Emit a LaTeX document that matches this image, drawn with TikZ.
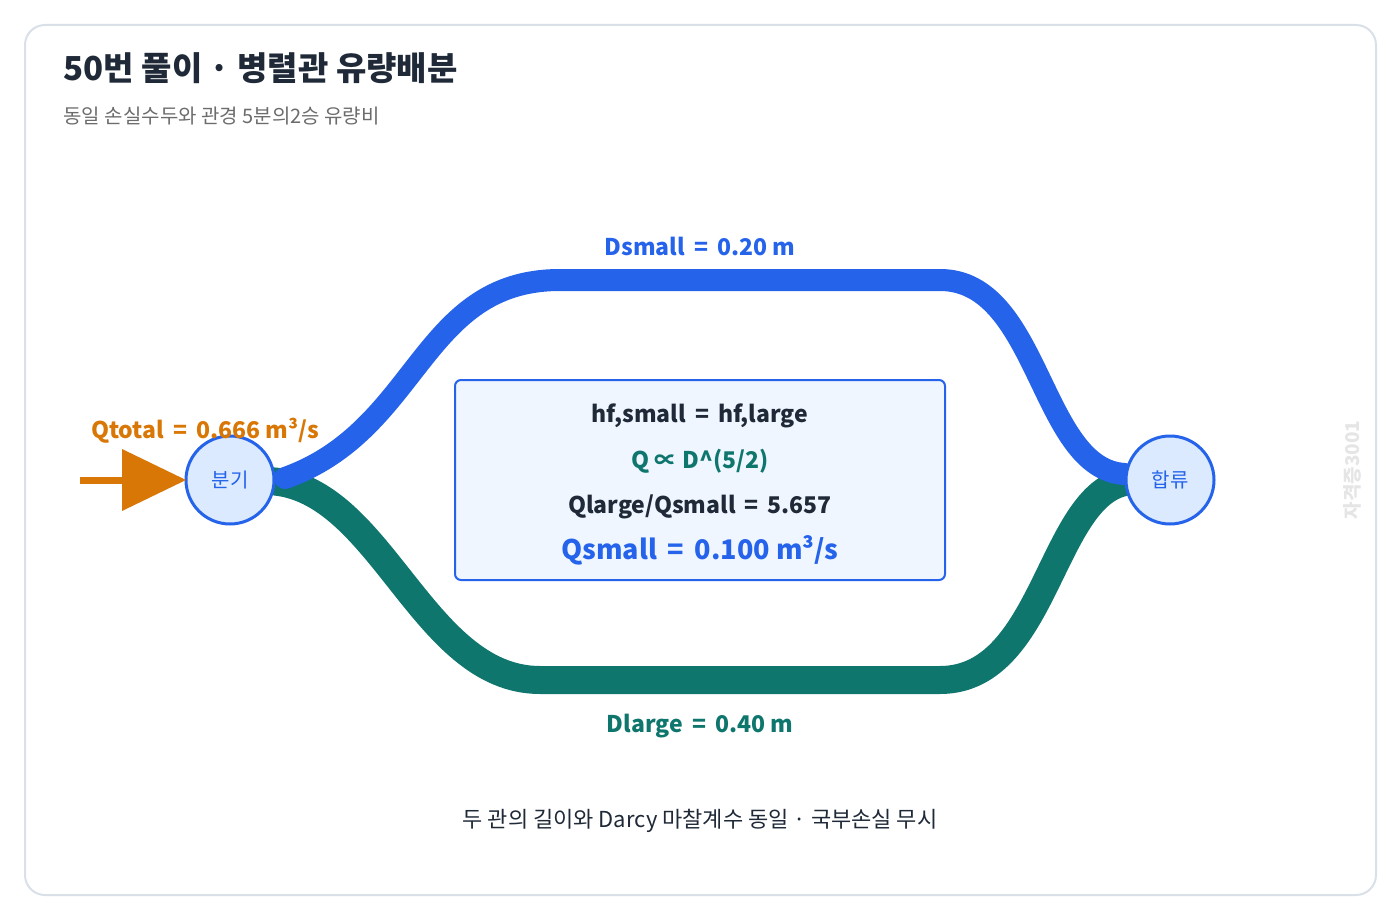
\documentclass[tikz,border=0pt]{standalone}
\usepackage{fontspec}
\setmainfont{Noto Sans CJK KR}
\definecolor{pipeblue}{HTML}{2563EB}
\definecolor{pipegreen}{HTML}{0F766E}
\definecolor{flowor}{HTML}{D97706}
\definecolor{ink}{HTML}{1F2937}
\definecolor{nodefill}{HTML}{DBEAFE}
\definecolor{boxfill}{HTML}{EFF6FF}
\definecolor{framecol}{HTML}{D9E0E8}
\newcommand{\eqs}{\ \,=\ \,}
\tikzset{
  junction/.style={circle,draw=pipeblue,line width=3pt,fill=nodefill,minimum size=88pt,
    text=pipeblue,font=\fontsize{20}{24}\selectfont},
  lbl/.style={font=\bfseries\fontsize{23}{28}\selectfont},
  boxline/.style={font=\bfseries\fontsize{23}{28}\selectfont,text=ink}
}
\begin{document}
\begin{tikzpicture}[x=1pt,y=-1pt]
\useasboundingbox (0,0) rectangle (1400,920);

%Marco
\draw[framecol,line width=2pt,rounded corners=20pt] (25,25) rectangle (1376,895);
\node[anchor=west,text=ink,font=\bfseries\fontsize{33}{38}\selectfont] (title) at (60,68) {50번 풀이 · 병렬관 유량배분};
\node[anchor=west,text=gray!85!black,font=\fontsize{20}{24}\selectfont] (sub) at (60,116) {동일 손실수두와 관경 5분의2승 유량비};

%Tuberias
\draw[pipegreen,line width=28pt,line cap=round] (265,481) .. controls (380,481) and (420,680) .. (540,680)
  -- (940,680) .. controls (1050,680) and (1050,481) .. (1135,481);
\draw[pipeblue,line width=22pt,line cap=round] (285,478) .. controls (420,430) and (420,280) .. (560,280)
  -- (940,280) .. controls (1040,280) and (1040,470) .. (1125,474);

%Nodos
\node[junction] (split) at (230,480) {분기};
\node[junction] (merge) at (1170,480) {합류};

%Entrada
\coordinate (inlet) at (80,480);
\draw[flowor,line width=7pt] (inlet) -- (125,480);
\fill[flowor] (122,449) -- (186,480) -- (122,511) -- cycle;
\node[lbl,text=flowor] (qtot) at (205,431) {Qtotal\eqs 0.666 m³/s};

\node[lbl,text=pipeblue] (dsmall) at (700,246) {Dsmall\eqs 0.20 m};
\node[lbl,text=pipegreen] (dlarge) at (700,726) {Dlarge\eqs 0.40 m};

%Cuadro
\draw[pipeblue,line width=2pt,fill=boxfill,rounded corners=6pt] (455,380) rectangle (945,580);
\node[boxline] (eq1) at (700,416) {hf,small\eqs hf,large};
\node[boxline,text=pipegreen] (eq2) at (700,461) {Q ∝ D\^{}(5/2)};
\node[boxline] (eq3) at (700,507) {Qlarge/Qsmall\eqs 5.657};
\node[boxline,text=pipeblue,font=\bfseries\fontsize{27}{32}\selectfont] (eq4) at (700,550) {Qsmall\eqs 0.100 m³/s};

\node[text=ink,font=\fontsize{22}{26}\selectfont] (note) at (700,821) {두 관의 길이와 Darcy 마찰계수 동일 · 국부손실 무시};
\node[rotate=90,text=gray!20,font=\bfseries\fontsize{19}{23}\selectfont] (wm) at (1352,470) {자격증3001};
\end{tikzpicture}
\end{document}
